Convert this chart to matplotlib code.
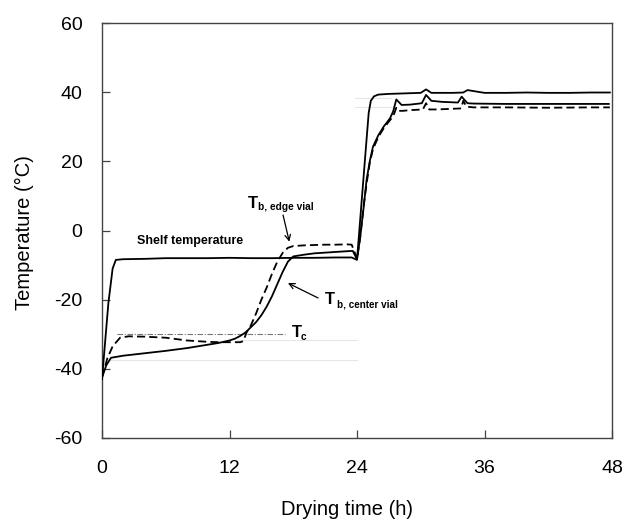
import matplotlib
matplotlib.use("Agg")
import matplotlib.pyplot as plt

plt.rcParams['font.family'] = ['Liberation Sans', 'DejaVu Sans']
plt.rcParams['axes.unicode_minus'] = False

# ---- data ----
shelf_t = [0, 0.3, 0.6, 1.0, 1.3, 2, 4, 6, 8, 10, 12, 14, 16, 18, 20, 22, 23.5, 24.0,
           24.4, 24.8, 25.1, 25.3, 25.6, 26.0, 27, 28, 29, 30, 30.5, 31, 33, 34, 34.4,
           36, 38, 40, 42, 44, 46, 47.8]
shelf_T = [-43, -32, -21, -11, -8.5, -8.3, -8.2, -8.0, -8.0, -8.0, -7.9, -8.0, -8.0, -7.9,
           -7.9, -7.8, -7.8, -8.5, 7, 22.5, 34, 37.5, 38.8, 39.3, 39.5, 39.6, 39.7, 39.8,
           40.8, 39.8, 39.8, 39.9, 40.6, 39.8, 39.8, 39.9, 39.8, 39.8, 39.9, 39.9]

center_t = [0, 0.4, 0.85, 2, 4, 6, 8, 10, 11, 12, 12.5, 13, 13.5, 14, 14.5, 15, 15.5, 16,
            16.5, 17, 17.5, 18, 19, 20, 21, 22, 23, 23.6, 24.0, 24.3, 24.6, 24.9, 25.2,
            25.5, 26, 26.5, 27.1, 27.4, 27.7, 28.2, 29, 30.1, 30.5, 31.0, 32, 33.5, 33.85,
            34.4, 35, 38, 42, 46, 47.7]
center_T = [-42.5, -39, -36.8, -36.2, -35.5, -34.8, -34.0, -33.0, -32.5, -31.8, -31.3, -30.5,
            -29.5, -28.0, -26.5, -24.5, -22, -19, -15.5, -12, -9, -7.5, -7.0, -6.6, -6.4,
            -6.2, -6.0, -5.9, -8.3, -2, 6, 14.6, 20, 24.2, 27.5, 30, 32.4, 34.4, 37.9, 36.3,
            36.4, 36.8, 39.2, 37.5, 37.2, 37.0, 38.7, 36.8, 36.7, 36.6, 36.6, 36.6, 36.6]

edge_t = [0, 0.5, 1.0, 1.7, 2.5, 4, 6, 8, 9, 10, 11, 12, 13, 13.3, 13.6, 14, 14.5, 15, 15.5,
          16, 16.5, 17, 17.5, 18, 19, 20, 21, 22, 23, 23.5, 23.8, 24.0, 24.3, 24.6, 24.9,
          25.2, 25.5, 26, 26.5, 27, 27.4, 27.7, 27.9, 28.3, 29, 30.2, 30.5, 30.8, 31.5, 33,
          33.8, 34.0, 34.3, 35, 38, 42, 46, 47.8]
edge_T = [-42.5, -37, -33.5, -31, -30.6, -30.7, -31.0, -31.8, -32.0, -32.2, -32.3, -32.3,
          -32.3, -32.0, -29.5, -27.5, -24, -20, -16.5, -12.5, -9, -6.5, -5, -4.5, -4.3, -4.2,
          -4.1, -4.1, -4.0, -4.1, -6.5, -8.3, -2, 6.5, 13.5, 19.5, 23.5, 27, 29.5, 31.5, 33,
          35.5, 34.6, 34.6, 34.8, 35.0, 36.8, 35.0, 35.0, 35.2, 35.3, 37.5, 35.8, 35.6, 35.6,
          35.5, 35.6, 35.6]

tc_value = -30.0
tc_span = [1.4, 17.2]

faint_levels = [-31.8, -37.5, 38.3, 35.7]
faint_spans = [[12.7, 24.0], [0.8, 24.0], [23.8, 27.2], [23.8, 27.2]]

x_ticks = [0, 12, 24, 36, 48]
y_ticks = [-60, -40, -20, 0, 20, 40, 60]

# ---- figure ----
fig = plt.figure(figsize=(6.26, 5.2), dpi=100)
ax = fig.add_axes([102/626, 1-438/520, 510/626, 415/520])

for lv, sp in zip(faint_levels, faint_spans):
    ax.plot(sp, [lv, lv], color='#e6e6e6', lw=0.8, zorder=1)

ax.plot(tc_span, [tc_value, tc_value], color='#777777', lw=0.8,
        linestyle=(0, (5, 1.5, 1, 1.5)), zorder=2)

ax.plot(shelf_t, shelf_T, color='black', lw=1.3, zorder=3)
ax.plot(center_t, center_T, color='black', lw=1.3, zorder=3)
ax.plot(edge_t, edge_T, color='black', lw=1.3, linestyle=(0, (4.5, 2.3)), zorder=3)

ax.set_xlim(0, 48)
ax.set_ylim(-60, 60)
ax.set_xticks(x_ticks)
ax.set_yticks(y_ticks)
ax.tick_params(axis='both', direction='in', length=6, width=0.9, color='#444444',
               labelsize=14)
ax.tick_params(axis='y', pad=14)
ax.tick_params(axis='x', pad=16)
for s in ax.spines.values():
    s.set_color('#444444')
    s.set_linewidth(1.0)

ax.set_xlabel('Drying time (h)', fontsize=14.5)
ax.set_ylabel('Temperature (°C)', fontsize=14.5)
ax.xaxis.set_label_coords(0.48, -0.15)
ax.yaxis.set_label_coords(-0.133, 0.495)

# annotations
ax.text(3.3, -3.0, 'Shelf temperature', fontsize=9, fontweight='bold',
        ha='left', va='center')

ax.text(13.7, 6.5, 'T', fontsize=12, fontweight='bold', ha='left', va='baseline')
ax.text(14.7, 5.9, 'b, edge vial', fontsize=7.3, fontweight='bold', ha='left', va='baseline')

ax.text(21.0, -21.25, 'T', fontsize=12, fontweight='bold', ha='left', va='baseline')
ax.text(22.1, -22.4, 'b, center vial', fontsize=7.1, fontweight='bold', ha='left', va='baseline')

ax.text(17.85, -30.7, 'T', fontsize=12, fontweight='bold', ha='left', va='baseline')
ax.text(18.65, -31.7, 'c', fontsize=7.3, fontweight='bold', ha='left', va='baseline')

arrow_kw = dict(arrowstyle='->', color='black', lw=0.9, mutation_scale=10,
                shrinkA=0, shrinkB=0)
ax.annotate('', xy=(17.63, -3.24), xytext=(17.04, 4.48), arrowprops=arrow_kw)
ax.annotate('', xy=(17.5, -15.2), xytext=(20.33, -19.5), arrowprops=arrow_kw)

fig.savefig('out.png', dpi=100)
